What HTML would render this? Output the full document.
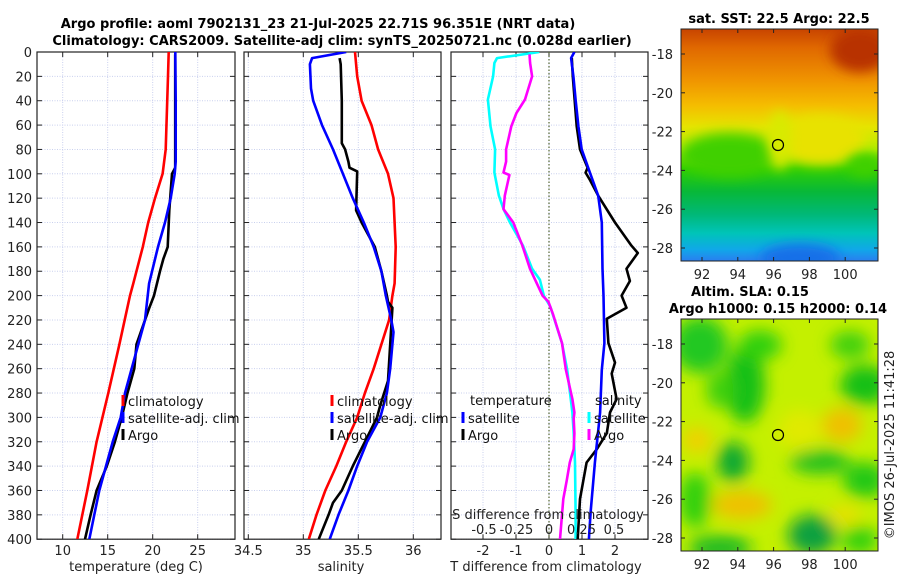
<!DOCTYPE html>
<html><head><meta charset="utf-8"><style>
html,body{margin:0;padding:0;background:#fff;}
svg{display:block;font-family:"DejaVu Sans","Liberation Sans",sans-serif;}
</style></head><body>
<svg id="fig" width="900" height="580" viewBox="0 0 900 580" xmlns="http://www.w3.org/2000/svg">
<defs>
<filter id="blur6" x="-50%" y="-50%" width="200%" height="200%"><feGaussianBlur stdDeviation="6"/></filter>
<filter id="blur10" x="-50%" y="-50%" width="200%" height="200%"><feGaussianBlur stdDeviation="8"/></filter>
<linearGradient id="sstGrad" x1="0" y1="0" x2="0" y2="1">
<stop offset="0" stop-color="#c84400"/><stop offset="0.08" stop-color="#e06800"/>
<stop offset="0.22" stop-color="#f09400"/><stop offset="0.33" stop-color="#f5bd00"/>
<stop offset="0.42" stop-color="#e6e400"/><stop offset="0.52" stop-color="#b8ee00"/>
<stop offset="0.6" stop-color="#30d000"/><stop offset="0.7" stop-color="#08b838"/>
<stop offset="0.8" stop-color="#00b878"/><stop offset="0.88" stop-color="#00c4b8"/>
<stop offset="0.95" stop-color="#10a8e8"/><stop offset="1" stop-color="#2a7ef0"/>
</linearGradient>
<clipPath id="clipTop"><rect x="681" y="29" width="197" height="232"/></clipPath>
<clipPath id="clipBot"><rect x="681" y="319" width="197" height="232"/></clipPath>
<clipPath id="clipP1"><rect x="37" y="52" width="198" height="487"/></clipPath>
<clipPath id="clipP2"><rect x="244" y="52" width="197" height="487"/></clipPath>
<clipPath id="clipP3"><rect x="451" y="52" width="197" height="487"/></clipPath>
</defs>
<text x="318" y="28" text-anchor="middle" font-size="13" font-weight="bold">Argo profile: aoml 7902131_23 21-Jul-2025 22.71S 96.351E (NRT data)</text>
<text x="342" y="45" text-anchor="middle" font-size="13" font-weight="bold">Climatology: CARS2009. Satellite-adj clim: synTS_20250721.nc (0.028d earlier)</text>

<g>
<text x="779" y="23" text-anchor="middle" font-size="13" font-weight="bold">sat. SST: 22.5 Argo: 22.5</text>
<g clip-path="url(#clipTop)">
<rect x="681" y="29" width="197" height="232" fill="url(#sstGrad)"/>
<ellipse cx="730" cy="155" rx="50" ry="22" fill="#40d000" filter="url(#blur6)"/>
<ellipse cx="820" cy="140" rx="45" ry="25" fill="#e8e200" filter="url(#blur6)"/>
<ellipse cx="780" cy="140" rx="12" ry="30" fill="#d8ea00" filter="url(#blur6)"/>
<ellipse cx="860" cy="50" rx="30" ry="22" fill="#b83000" filter="url(#blur6)"/>
<ellipse cx="800" cy="258" rx="40" ry="14" fill="#1870e8" filter="url(#blur6)"/>
<ellipse cx="865" cy="165" rx="18" ry="12" fill="#40d000" filter="url(#blur6)"/>
</g>
<rect x="681" y="29" width="197" height="232" fill="none" stroke="#222" stroke-width="1"/>
<circle cx="778" cy="145" r="5.5" fill="none" stroke="#000" stroke-width="1.2"/>
</g>

<g>
<text x="750" y="296" text-anchor="middle" font-size="13" font-weight="bold">Altim. SLA: 0.15</text>
<text x="778" y="313" text-anchor="middle" font-size="13" font-weight="bold">Argo h1000: 0.15 h2000: 0.14</text>
<g clip-path="url(#clipBot)">
<rect x="681" y="319" width="197" height="232" fill="#c4f000"/>
<g filter="url(#blur10)">
<ellipse cx="700" cy="345" rx="28" ry="28" fill="#22c820"/>
<ellipse cx="745" cy="385" rx="20" ry="38" fill="#18c018"/>
<ellipse cx="760" cy="345" rx="22" ry="15" fill="#30d010"/>
<ellipse cx="720" cy="390" rx="14" ry="18" fill="#40d010"/>
<ellipse cx="865" cy="385" rx="25" ry="20" fill="#18c018"/>
<ellipse cx="850" cy="345" rx="20" ry="14" fill="#40d010"/>
<ellipse cx="800" cy="430" rx="22" ry="20" fill="#e0ea00"/>
<ellipse cx="842" cy="425" rx="20" ry="17" fill="#f0c000"/>
<ellipse cx="697" cy="440" rx="15" ry="13" fill="#f0d000"/>
<ellipse cx="733" cy="462" rx="16" ry="20" fill="#10a830"/>
<ellipse cx="820" cy="462" rx="30" ry="12" fill="#20c020"/>
<ellipse cx="742" cy="505" rx="30" ry="14" fill="#f0c000"/>
<ellipse cx="812" cy="535" rx="24" ry="20" fill="#10a040"/>
<ellipse cx="865" cy="480" rx="22" ry="18" fill="#20c818"/>
<ellipse cx="695" cy="500" rx="16" ry="28" fill="#30d010"/>
<ellipse cx="720" cy="548" rx="32" ry="12" fill="#18b828"/>
<ellipse cx="860" cy="540" rx="18" ry="14" fill="#30d010"/>
<ellipse cx="845" cy="515" rx="16" ry="10" fill="#e8e000"/>
</g>
</g>
<rect x="681" y="319" width="197" height="232" fill="none" stroke="#222" stroke-width="1"/>
<circle cx="778" cy="435" r="5.5" fill="none" stroke="#000" stroke-width="1.2"/>
</g>
<text transform="translate(894,445) rotate(-90)" text-anchor="middle" font-size="13" fill="#222">©IMOS 26-Jul-2025 11:41:28</text>
<g id="dyn"></g>
</svg>
<script>
// ---- data ----
const depthTicks = [0,20,40,60,80,100,120,140,160,180,200,220,240,260,280,300,320,340,360,380,400];
const tempTicks = [10,15,20,25];
const salTicks = [34.5,35,35.5,36];
const salTickLabels = ['34.5','35','35.5','36'];
const tDiffTicks = [-2,-1,0,1,2];
const sDiffTicks = [-0.5,-0.25,0,0.25,0.5];
const sDiffTickLabels = ['-0.5','-0.25','0','0.25','0.5'];

const tempClimDepth = [0,20,80,100,120,140,160,190,200,240,280,320,360,400];
const tempClimValue = [21.78,21.7,21.44,21.1,20.26,19.5,18.9,17.84,17.48,16.3,15.07,13.77,12.73,11.62];
const tempSatDepth = [0,40,90,100,120,140,160,190,220,240,280,300,320,340,360,380,400];
const tempSatValue = [22.51,22.55,22.55,22.44,22.0,21.37,20.59,19.6,19.14,18.4,16.92,16.44,15.56,14.81,14.07,13.51,12.96];
const tempArgoDepth = [2,95,100,130,160,170,180,200,210,240,260,280,300,320,340,360,380,400];
const tempArgoValue = [22.5,22.5,22.14,21.84,21.67,21.18,20.81,20.14,19.62,18.2,17.96,17.2,16.55,15.8,14.9,13.77,13.1,12.48];

const salClimDepth = [0,20,40,60,80,100,120,160,190,200,220,240,260,280,300,320,340,360,380,400];
const salClimValue = [35.47,35.49,35.53,35.62,35.68,35.77,35.82,35.84,35.83,35.81,35.78,35.71,35.64,35.56,35.49,35.39,35.30,35.20,35.12,35.05];
const salSatDepth = [0,5,10,30,40,60,80,100,120,140,160,180,200,220,230,260,280,300,320,340,360,380,400];
const salSatValue = [35.39,35.08,35.06,35.07,35.09,35.17,35.27,35.36,35.45,35.55,35.64,35.71,35.75,35.80,35.82,35.79,35.76,35.70,35.58,35.49,35.41,35.32,35.24];
const salArgoDepth = [5,10,40,75,80,90,95,98,130,140,160,180,200,205,210,240,270,290,300,320,340,360,370,380,400];
const salArgoValue = [35.33,35.34,35.35,35.35,35.38,35.41,35.42,35.49,35.48,35.53,35.65,35.71,35.76,35.77,35.81,35.79,35.77,35.70,35.67,35.56,35.45,35.35,35.27,35.23,35.14];

const sDiffSatDepth = [0,5,9,20,39,61,80,99,118,129,140,159,178,187,200,209,239,261,296,313,337,378,400];
const sDiffSatValue = [-0.075,-0.40,-0.42,-0.43,-0.47,-0.45,-0.415,-0.42,-0.385,-0.35,-0.30,-0.20,-0.13,-0.07,-0.04,0.01,0.10,0.14,0.18,0.19,0.20,0.205,0.205];
const sDiffArgoDepth = [2,9,20,39,50,61,80,90,99,101,118,129,140,159,178,200,205,215,239,261,285,296,301,313,326,337,352,367,400];
const sDiffArgoValue = [-0.15,-0.145,-0.13,-0.185,-0.25,-0.29,-0.33,-0.33,-0.35,-0.305,-0.34,-0.35,-0.275,-0.205,-0.146,-0.05,-0.005,0.03,0.10,0.13,0.18,0.195,0.19,0.195,0.19,0.16,0.136,0.11,0.085];
const tDiffSatDepth = [0,5,20,40,61,80,99,118,140,178,200,239,261,296,337,378,400];
const tDiffSatValue = [0.77,0.67,0.74,0.81,0.89,0.99,1.24,1.49,1.60,1.62,1.65,1.68,1.60,1.55,1.39,1.26,1.21];
const tDiffArgoDepth = [5,20,61,80,95,99,105,118,140,159,165,178,188,200,210,219,239,255,264,285,296,313,326,337,352,367,400];
const tDiffArgoValue = [0.69,0.72,0.84,0.94,1.17,1.11,1.24,1.49,2.0,2.5,2.69,2.35,2.45,2.2,2.35,1.75,1.80,2.0,1.9,2.05,1.85,1.75,1.45,1.14,1.04,0.94,0.87];

// ---- scales ----
const Y0 = 52, YS = 1.218;
function yDepth(d){ return Y0 + d*YS; }
function xTemp(t){ return 62.7 + (t-10)*9; }
function xSal(s){ return 303.3 + (s-35)*110; }
function xTDiff(v){ return 549 + v*33; }
function xSDiff(v){ return 549 + v*130; }

const NS = 'http://www.w3.org/2000/svg';
const dyn = document.getElementById('dyn');
function mk(tag, attrs, parent){
  const e = document.createElementNS(NS, tag);
  for (const k in attrs) e.setAttribute(k, attrs[k]);
  (parent||dyn).appendChild(e);
  return e;
}
function txt(s, attrs, parent){ const e = mk('text', attrs, parent); e.textContent = s; return e; }

const panels = [
  {key:'temperature', x0:37, x1:235, grid:tempTicks.map(xTemp), clip:'clipP1'},
  {key:'salinity', x0:244, x1:441, grid:salTicks.map(xSal), clip:'clipP2'},
  {key:'difference', x0:451, x1:648, grid:tDiffTicks.map(xTDiff), clip:'clipP3'}
];
const yBottom = yDepth(400);
const GRID = '#c9d0ee';

panels.forEach(function(p){
  const g = mk('g', {});
  
  
  depthTicks.forEach(function(d){
    const l = mk('line', {x1:p.x0, x2:p.x1, y1:yDepth(d), y2:yDepth(d), stroke:GRID, 'stroke-width':1, 'stroke-dasharray':'1,1.5'}, g);
    
    
  });
  p.grid.forEach(function(x){
    const l = mk('line', {x1:x, x2:x, y1:Y0, y2:yBottom, stroke:GRID, 'stroke-width':1, 'stroke-dasharray':'1,1.5'}, g);
    
    
  });
  depthTicks.forEach(function(d){
    mk('line', {x1:p.x0, x2:p.x0+5, y1:yDepth(d), y2:yDepth(d), stroke:'#222'}, g);
    mk('line', {x1:p.x1-5, x2:p.x1, y1:yDepth(d), y2:yDepth(d), stroke:'#222'}, g);
  });
  p.grid.forEach(function(x){
    mk('line', {x1:x, x2:x, y1:yBottom-5, y2:yBottom, stroke:'#222'}, g);
    mk('line', {x1:x, x2:x, y1:Y0, y2:Y0+5, stroke:'#222'}, g);
  });
  const fr = mk('rect', {x:p.x0, y:Y0, width:p.x1-p.x0, height:yBottom-Y0, fill:'none', stroke:'#222', 'stroke-width':1.2}, g);
  
  
  p.g = g;
});

depthTicks.forEach(function(d){
  const t = txt(String(d), {x:32, y:yDepth(d)+5, 'text-anchor':'end', 'font-size':13, fill:'#222'});
  
  
});
tempTicks.forEach(function(v){
  const t = txt(String(v), {x:xTemp(v), y:555, 'text-anchor':'middle', 'font-size':13, fill:'#222'});
  
  
});
salTicks.forEach(function(v,i){
  const t = txt(salTickLabels[i], {x:xSal(v), y:555, 'text-anchor':'middle', 'font-size':13, fill:'#222'});
  
  
});
tDiffTicks.forEach(function(v){
  const t = txt(String(v), {x:xTDiff(v), y:555, 'text-anchor':'middle', 'font-size':13, fill:'#222'});
  
  
});
sDiffTicks.forEach(function(v,i){
  const t = txt(sDiffTickLabels[i], {x:xSDiff(v), y:534, 'text-anchor':'middle', 'font-size':13, fill:'#222'});
  
  
});
let a;
a = txt('temperature (deg C)', {x:136, y:571, 'text-anchor':'middle', 'font-size':13, fill:'#222'});


a = txt('salinity', {x:341, y:571, 'text-anchor':'middle', 'font-size':13, fill:'#222'});


a = txt('T difference from climatology', {x:546, y:571, 'text-anchor':'middle', 'font-size':13, fill:'#222'});


a = txt('S difference from climatology', {x:548, y:519, 'text-anchor':'middle', 'font-size':13, fill:'#222'});



a = mk('line', {x1:xTDiff(0), x2:xTDiff(0), y1:Y0, y2:yBottom, stroke:'#556633', 'stroke-width':1.2, 'stroke-dasharray':'1.5,2'}, panels[2].g);



function line(depths, vals, xf, color, name, panel){
  const pts = depths.map(function(d,i){ return xf(vals[i]).toFixed(1)+','+yDepth(d).toFixed(1); }).join(' ');
  const e = mk('polyline', {points:pts, fill:'none', stroke:color, 'stroke-width':2.6, 'stroke-linejoin':'round', 'clip-path':'url(#'+panel.clip+')'}, panel.g);
  
  
}
line(tempClimDepth, tempClimValue, xTemp, '#ff0000', 'temperature-climatology-line', panels[0]);
line(tempArgoDepth, tempArgoValue, xTemp, '#000000', 'temperature-argo-line', panels[0]);
line(tempSatDepth, tempSatValue, xTemp, '#0000ff', 'temperature-satellite-line', panels[0]);
line(salClimDepth, salClimValue, xSal, '#ff0000', 'salinity-climatology-line', panels[1]);
line(salArgoDepth, salArgoValue, xSal, '#000000', 'salinity-argo-line', panels[1]);
line(salSatDepth, salSatValue, xSal, '#0000ff', 'salinity-satellite-line', panels[1]);
line(sDiffSatDepth, sDiffSatValue, xSDiff, '#00ffff', 's-diff-satellite-line', panels[2]);
line(sDiffArgoDepth, sDiffArgoValue, xSDiff, '#ff00ff', 's-diff-argo-line', panels[2]);
line(tDiffArgoDepth, tDiffArgoValue, xTDiff, '#000000', 't-diff-argo-line', panels[2]);
line(tDiffSatDepth, tDiffSatValue, xTDiff, '#0000ff', 't-diff-satellite-line', panels[2]);

function legendEntry(x, y, color, label, name){
  const g = mk('g', {});
  
  
  mk('rect', {x:x-1.5, y:y-6, width:3, height:11, fill:color}, g);
  txt(label, {x:x+5, y:y+5, 'font-size':13, fill:'#111'}, g);
}
legendEntry(123, 401, '#ff0000', 'climatology', 'legend-entry-temp-climatology');
legendEntry(123, 418, '#0000ff', 'satellite-adj. clim', 'legend-entry-temp-satellite');
legendEntry(123, 435, '#000000', 'Argo', 'legend-entry-temp-argo');
legendEntry(332, 401, '#ff0000', 'climatology', 'legend-entry-sal-climatology');
legendEntry(332, 418, '#0000ff', 'satellite-adj. clim', 'legend-entry-sal-satellite');
legendEntry(332, 435, '#000000', 'Argo', 'legend-entry-sal-argo');
a = txt('temperature', {x:470, y:405, 'font-size':13, fill:'#111'});


a = txt('salinity', {x:595, y:405, 'font-size':13, fill:'#111'});


legendEntry(463, 418, '#0000ff', 'satellite', 'legend-entry-tdiff-satellite');
legendEntry(463, 435, '#000000', 'Argo', 'legend-entry-tdiff-argo');
legendEntry(589, 418, '#00ffff', 'satellite', 'legend-entry-sdiff-satellite');
legendEntry(589, 435, '#ff00ff', 'Argo', 'legend-entry-sdiff-argo');

const mapLatTicks = [-18,-20,-22,-24,-26,-28];
const mapLonTicks = [92,94,96,98,100];
function mapY(lat, top){ return top + 25 + (-18-lat)*19.4; }
function mapX(lon){ return 702 + (lon-92)*17.9; }
[29,319].forEach(function(top){
  const bottom = top + 232;
  mapLatTicks.forEach(function(lat){
    const y = mapY(lat, top);
    mk('line', {x1:681, x2:685, y1:y, y2:y, stroke:'#222'});
    mk('line', {x1:874, x2:878, y1:y, y2:y, stroke:'#222'});
    const t = txt(String(lat), {x:673, y:y+5, 'text-anchor':'end', 'font-size':13, fill:'#222'});
    
    
  });
  mapLonTicks.forEach(function(lon){
    const x = mapX(lon);
    mk('line', {x1:x, x2:x, y1:bottom-4, y2:bottom, stroke:'#222'});
    mk('line', {x1:x, x2:x, y1:top, y2:top+4, stroke:'#222'});
    const t = txt(String(lon), {x:x, y:bottom+18, 'text-anchor':'middle', 'font-size':13, fill:'#222'});
    
    
  });
});
</script>
</body></html>
